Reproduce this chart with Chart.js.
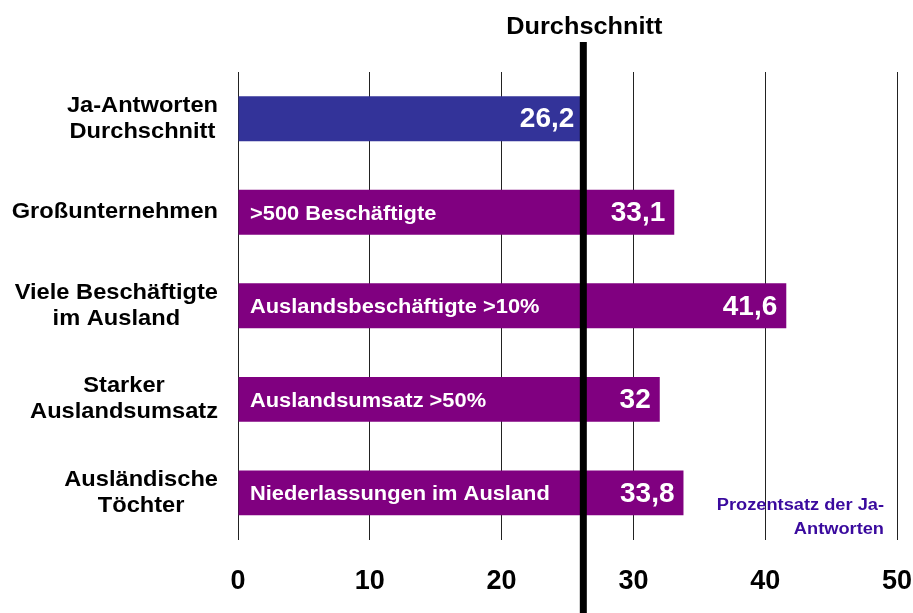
<!DOCTYPE html>
<html>
<head>
<meta charset="utf-8">
<script src="https://cdn.jsdelivr.net/npm/chart.js@4/dist/chart.umd.min.js"></script>
<style>
  html, body { margin: 0; padding: 0; background: #fff; }
  #wrap { width: 913px; height: 613px; }
</style>
</head>
<body>
<div id="wrap"><canvas id="chart"></canvas></div>
<script>
const categories = [
    ['Ja-Antworten', 'Durchschnitt'],
    ['Großunternehmen'],
    ['Viele Beschäftigte', 'im Ausland'],
    ['Starker', 'Auslandsumsatz'],
    ['Ausländische', 'Töchter']
];
const values = [26.2, 33.1, 41.6, 32, 33.8];
const valueLabels = ['26,2', '33,1', '41,6', '32', '33,8'];
const barLabels = ['', '>500 Beschäftigte', 'Auslandsbeschäftigte >10%', 'Auslandsumsatz >50%', 'Niederlassungen im Ausland'];
const barColors = ['#333399', '#800080', '#800080', '#800080', '#800080'];
const average = 26.2;
const xTicks = [0, 10, 20, 30, 40, 50];

const FONT = '"Liberation Sans", Arial, sans-serif';

// the original text is a bit wider than Arial, so stretch it sideways
function wideText(ctx, text, x, y, sx) {
    ctx.save();
    ctx.translate(x, y);
    ctx.scale(sx, 1);
    ctx.fillText(text, 0, 0);
    ctx.restore();
}

// Labels, average line and notes drawn on top of the bars
const overlay = {
    id: 'overlay',
    afterDatasetsDraw(chart) {
        const ctx = chart.ctx;
        const x = chart.scales.x;
        const y = chart.scales.y;
        const meta = chart.getDatasetMeta(0);
        ctx.save();
        ctx.textBaseline = 'middle';

        // category labels, each block centred and right-aligned to the axis
        const sx = 1.1;
        ctx.fillStyle = '#000';
        ctx.font = 'bold 21.5px ' + FONT;
        ctx.textAlign = 'center';
        categories.forEach((lines, i) => {
            const cy = y.getPixelForValue(i);
            const w = Math.max(...lines.map(l => ctx.measureText(l).width)) * sx;
            const cx = x.left - 20 - w / 2;
            const lh = 26;
            lines.forEach((l, j) => {
                wideText(ctx, l, cx, cy + (j - (lines.length - 1) / 2) * lh, sx);
            });
        });

        // text inside the bars
        ctx.fillStyle = '#fff';
        meta.data.forEach((bar, i) => {
            ctx.textAlign = 'left';
            ctx.font = 'bold 19.5px ' + FONT;
            if (barLabels[i]) wideText(ctx, barLabels[i], x.left + 12, bar.y + 2, 1.12);
            ctx.textAlign = 'right';
            ctx.font = 'bold 28px ' + FONT;
            ctx.fillText(valueLabels[i], bar.x - 9, bar.y + 1);
        });

        // average line
        const ax = x.getPixelForValue(average);
        ctx.fillStyle = '#000';
        ctx.fillRect(ax - 3.5, 42, 7, chart.height - 42);
        ctx.textAlign = 'center';
        ctx.font = 'bold 23px ' + FONT;
        wideText(ctx, 'Durchschnitt', ax + 1, 28, 1.1);

        // note
        ctx.fillStyle = '#3a0a9e';
        ctx.textAlign = 'right';
        ctx.font = 'bold 16px ' + FONT;
        wideText(ctx, 'Prozentsatz der Ja-', 884, 506, 1.14);
        wideText(ctx, 'Antworten', 884, 530, 1.14);
        ctx.restore();
    }
};

new Chart(document.getElementById('chart'), {
    type: 'bar',
    data: {
        labels: categories.map(c => c.join(' ')),
        datasets: [{
            data: values,
            backgroundColor: barColors,
            borderWidth: 0,
            barPercentage: 0.96,
            categoryPercentage: 0.5
        }]
    },
    options: {
        indexAxis: 'y',
        responsive: true,
        maintainAspectRatio: false,
        animation: false,
        layout: { padding: { left: 238, top: 72, right: 0, bottom: -11 } },
        plugins: { legend: { display: false }, tooltip: { enabled: false } },
        scales: {
            x: {
                min: 0,
                max: 50,
                afterBuildTicks(scale) { scale.ticks = xTicks.map(v => ({ value: v })); },
                afterFit(scale) { scale.paddingRight = 16; },
                grid: { color: '#222', lineWidth: 1, drawTicks: false },
                border: { display: false },
                ticks: {
                    color: '#000',
                    padding: 26,
                    font: { family: FONT, size: 27, weight: 'bold' },
                    maxRotation: 0
                }
            },
            y: {
                display: false
            }
        }
    },
    plugins: [overlay]
});
</script>
</body>
</html>
